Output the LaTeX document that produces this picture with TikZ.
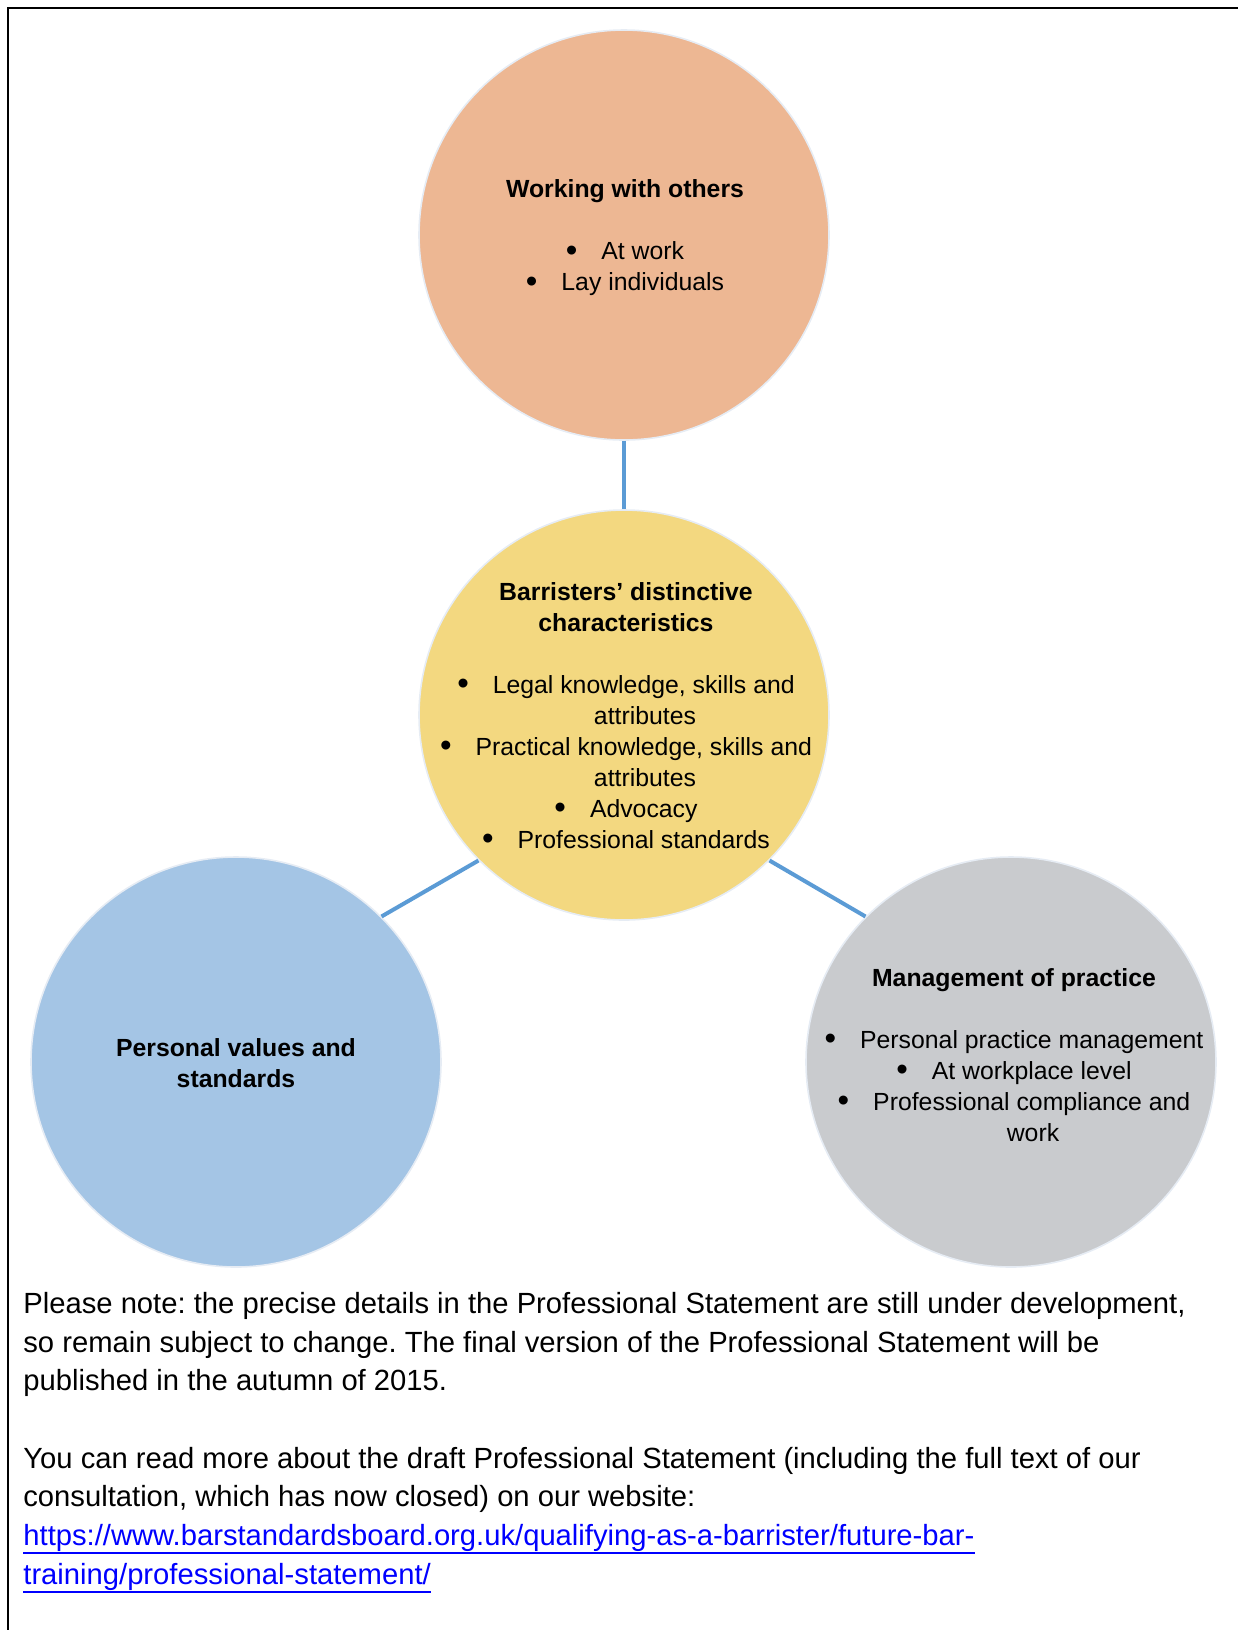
\documentclass[tikz,border=0pt]{standalone}
\usepackage{fontspec}
\setmainfont{Liberation Sans}
\frenchspacing
\definecolor{workfill}{HTML}{EDB793}
\definecolor{corefill}{HTML}{F3D880}
\definecolor{valuesfill}{HTML}{A4C5E5}
\definecolor{mgmtfill}{HTML}{C9CBCE}
\definecolor{halo}{HTML}{E6ECF4}
\definecolor{linkline}{HTML}{5B9BD5}
\definecolor{urlblue}{HTML}{0000FF}
\tikzset{
	bubble/.style={circle,minimum size=205pt,inner sep=0pt,draw=halo,line width=0.8pt},
	bubtext/.style={align=center,inner sep=0pt,font=\fontsize{12.4}{15.5}\selectfont},
	spoke/.style={draw=linkline,line width=2pt},
	note/.style={anchor=base west,inner sep=0pt,font=\fontsize{14.6}{19.4}\selectfont},
}
\newcommand{\bul}{\raisebox{-0.6pt}{\fontsize{16.5}{16.5}\selectfont\textbullet}\hspace{12pt}}
\newcommand{\hang}{\hspace*{19pt}}
\begin{document}
\begin{tikzpicture}[x=0.5pt,y=-0.5pt]
	\useasboundingbox (0,0) rectangle (1238,1630);
	\draw[line width=1pt] (8,1630) -- (8,8) -- (1238,8);
	% the four circles
	\node[bubble,fill=workfill] (work) at (624,235) {};
	\node[bubble,fill=corefill] (core) at (624,715) {};
	\node[bubble,fill=valuesfill] (values) at (236,1062) {};
	\node[bubble,fill=mgmtfill] (mgmt) at (1011,1062) {};
	\draw[spoke] (work.south) -- (core.north);
	\draw[spoke] (core.-135) -- (values.45);
	\draw[spoke] (core.-45) -- (mgmt.135);
	% texts in the circles
	\node[bubtext] (worktext) at (625,238) {\textbf{Working with others}\\[15.5pt]
		\bul At work\\ \bul Lay individuals};
	\node[bubtext] (coretext) at (626,716) {\textbf{Barristers’ distinctive}\\
		\textbf{characteristics}\\[15.5pt]
		\bul Legal knowledge, skills and\\ \hang attributes\\
		\bul Practical knowledge, skills and\\ \hang attributes\\
		\bul Advocacy\\ \bul Professional standards};
	\node[bubtext] (valuestext) at (236,1063) {\textbf{Personal values and}\\
		\textbf{standards}};
	\node[bubtext] (mgmttext) at (1014,1055) {\textbf{Management of practice}\\[15.5pt]
		\bul Personal practice management\\ \bul At workplace level\\
		\bul Professional compliance and\\ \hang work};
	% note under the diagram
	\node[note] (note1) at (23,1313) {Please note: the precise details in the Professional Statement are still under development,};
	\node[note] (note2) at (23,1352) {so remain subject to change. The final version of the Professional Statement will be};
	\node[note] (note3) at (23,1390.5) {published in the autumn of 2015.};
	\node[note] (more1) at (23,1468) {You can read more about the draft Professional Statement (including the full text of our};
	\node[note] (more2) at (23,1506.5) {consultation, which has now closed) on our website:};
	\node[note,text=urlblue] (url1) at (23,1545) {https://www.barstandardsboard.org.uk/qualifying-as-a-barrister/future-bar-};
	\node[note,text=urlblue] (url2) at (23,1584) {training/professional-statement/};
	\draw[urlblue,line width=1pt] ([yshift=-4pt]url1.base west) -- ([yshift=-4pt]url1.base east);
	\draw[urlblue,line width=1pt] ([yshift=-4pt]url2.base west) -- ([yshift=-4pt]url2.base east);
\end{tikzpicture}
\end{document}
